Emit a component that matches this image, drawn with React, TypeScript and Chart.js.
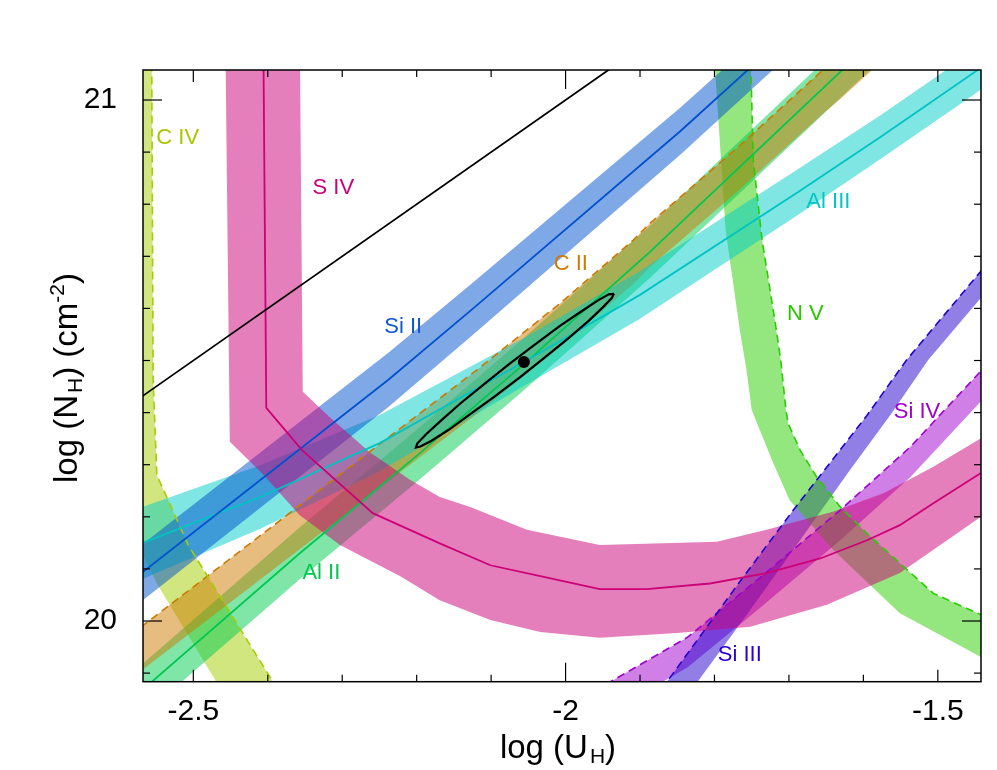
import React, { useEffect, useRef } from "react";
import { Chart, registerables } from "chart.js";

Chart.register(...registerables);

type P = [number, number];

// ---------- axes ----------
const X_MIN = -2.5676;
const X_MAX = -1.442;
const Y_MIN = 19.8835;
const Y_MAX = 21.0576;
const X_TICK_STEP = 0.1;
const Y_TICK_STEP = 0.1;
const X_LABELED = [-2.5, -2, -1.5];
const Y_LABELED = [20, 21];

// ---------- data (log U_H, log N_H) ----------
// ionisation-front line
const frontLine: P[] = [[-2.62, 20.38], [-1.9, 21.1]];

// best fit and confidence contour
const bestFit: P[] = [[-2.056, 20.497]];
const contour: P[] = [
  [-1.935, 20.628], [-1.938, 20.62], [-1.95, 20.602], [-1.969, 20.576], [-1.996, 20.543],
  [-2.027, 20.507], [-2.061, 20.468], [-2.096, 20.43], [-2.129, 20.396], [-2.157, 20.367],
  [-2.18, 20.346], [-2.195, 20.335], [-2.201, 20.333], [-2.199, 20.341], [-2.187, 20.359],
  [-2.167, 20.385], [-2.141, 20.418], [-2.109, 20.455], [-2.075, 20.494], [-2.04, 20.532],
  [-2.008, 20.566], [-1.979, 20.594], [-1.957, 20.615], [-1.942, 20.627], [-1.935, 20.628],
];

// S IV
const s4Center: P[] = [
  [-2.406, 21.12], [-2.402, 20.409], [-2.354, 20.328], [-2.259, 20.207], [-2.169, 20.149],
  [-2.101, 20.107], [-2.034, 20.086], [-1.954, 20.061], [-1.891, 20.061], [-1.806, 20.072],
  [-1.73, 20.092], [-1.658, 20.12], [-1.595, 20.155], [-1.551, 20.184], [-1.506, 20.226],
  [-1.442, 20.284], [-1.403, 20.319],
];
const s4Outer: P[] = [
  [-2.457, 21.12], [-2.451, 20.344], [-2.408, 20.284], [-2.357, 20.203], [-2.303, 20.146],
  [-2.222, 20.086], [-2.169, 20.04], [-2.101, 20.002], [-2.034, 19.979], [-1.954, 19.968],
  [-1.85, 19.977], [-1.752, 19.989], [-1.649, 20.031], [-1.551, 20.092], [-1.442, 20.2],
  [-1.403, 20.242],
];
const s4Inner: P[] = [
  [-2.357, 21.12], [-2.353, 20.44], [-2.316, 20.39], [-2.263, 20.324], [-2.209, 20.271],
  [-2.169, 20.238], [-2.128, 20.219], [-2.052, 20.175], [-1.954, 20.146], [-1.797, 20.152],
  [-1.73, 20.175], [-1.64, 20.21], [-1.573, 20.245], [-1.506, 20.296], [-1.442, 20.351],
  [-1.403, 20.386],
];

// Si II
const si2Center: P[] = [[-2.598, 20.059], [-2.567, 20.095], [-2.238, 20.463], [-2.124, 20.6], [-1.846, 20.94], [-1.755, 21.058], [-1.7, 21.13]];
const si2Upper: P[] = [[-2.598, 20.113], [-2.567, 20.149], [-2.238, 20.515], [-2.124, 20.65], [-1.846, 20.985], [-1.755, 21.102], [-1.7, 21.174]];
const si2Lower: P[] = [[-2.598, 20.005], [-2.567, 20.041], [-2.238, 20.411], [-2.124, 20.55], [-1.846, 20.895], [-1.755, 21.014], [-1.7, 21.086]];

// Al III
const al3Center: P[] = [
  [-2.598, 20.117], [-2.568, 20.15], [-2.41, 20.238], [-2.249, 20.342], [-2.056, 20.497],
  [-1.9, 20.626], [-1.685, 20.826], [-1.578, 20.928], [-1.461, 21.043], [-1.43, 21.074],
];
const al3Upper: P[] = [
  [-2.598, 20.186], [-2.568, 20.219], [-2.41, 20.299], [-2.249, 20.396], [-2.056, 20.543],
  [-1.9, 20.672], [-1.685, 20.87], [-1.578, 20.97], [-1.461, 21.085], [-1.43, 21.116],
];
const al3Lower: P[] = [
  [-2.598, 20.048], [-2.568, 20.081], [-2.41, 20.177], [-2.249, 20.288], [-2.056, 20.451],
  [-1.9, 20.58], [-1.685, 20.782], [-1.578, 20.886], [-1.461, 21.001], [-1.43, 21.032],
];

// C II (lower limit, dashed edge)
const c2Edge: P[] = [
  [-2.598, 19.958], [-2.567, 19.992], [-2.231, 20.36], [-2.119, 20.482], [-2.007, 20.61],
  [-1.909, 20.731], [-1.887, 20.763], [-1.768, 20.91], [-1.654, 21.058], [-1.631, 21.086], [-1.58, 21.152],
];
const c2Lower: P[] = [
  [-2.598, 19.874], [-2.567, 19.908], [-2.231, 20.276], [-2.119, 20.398], [-2.007, 20.526],
  [-1.909, 20.647], [-1.887, 20.679], [-1.768, 20.826], [-1.654, 20.974], [-1.631, 21.002], [-1.58, 21.068],
];

// Al II
const al2Center: P[] = [
  [-2.598, 19.831], [-2.556, 19.883], [-2.357, 20.13], [-2.2, 20.317], [-2.056, 20.493],
  [-1.887, 20.708], [-1.631, 21.054], [-1.6045, 21.09], [-1.56, 21.15],
];
const al2Upper: P[] = [
  [-2.598, 19.881], [-2.556, 19.933], [-2.357, 20.18], [-2.2, 20.367], [-2.056, 20.543],
  [-1.887, 20.758], [-1.631, 21.104], [-1.6045, 21.14], [-1.56, 21.2],
];
const al2Lower: P[] = [
  [-2.598, 19.781], [-2.556, 19.833], [-2.357, 20.08], [-2.2, 20.267], [-2.056, 20.443],
  [-1.887, 20.658], [-1.631, 21.004], [-1.6045, 21.04], [-1.56, 21.1],
];

// C IV
const c4Edge: P[] = [
  [-2.556, 21.12], [-2.554, 20.463], [-2.549, 20.28], [-2.531, 20.223], [-2.507, 20.146],
  [-2.451, 20.017], [-2.393, 19.883], [-2.37, 19.833],
];
const c4Other: P[] = [
  [-2.625, 21.12], [-2.625, 20.28], [-2.568, 20.127], [-2.549, 20.072], [-2.469, 19.883], [-2.444, 19.825],
];

// N V
const n5Edge: P[] = [
  [-1.752, 21.12], [-1.748, 20.885], [-1.736, 20.731], [-1.719, 20.578], [-1.711, 20.501],
  [-1.704, 20.405], [-1.701, 20.379], [-1.685, 20.328], [-1.663, 20.277], [-1.631, 20.219],
  [-1.595, 20.168], [-1.551, 20.111], [-1.506, 20.053], [-1.442, 20.012], [-1.403, 19.983],
];
const n5Other: P[] = [
  [-1.802, 21.12], [-1.785, 20.75], [-1.766, 20.559], [-1.757, 20.482], [-1.75, 20.405],
  [-1.721, 20.303], [-1.699, 20.232], [-1.64, 20.136], [-1.551, 20.015], [-1.442, 19.931], [-1.403, 19.902],
];

// Si III
const si3Edge: P[] = [
  [-1.903, 19.81], [-1.864, 19.883], [-1.761, 20.085], [-1.694, 20.213], [-1.595, 20.395],
  [-1.542, 20.501], [-1.443, 20.67], [-1.416, 20.722],
];
const si3Other: P[] = [
  [-1.846, 19.81], [-1.823, 19.883], [-1.752, 20.021], [-1.685, 20.155], [-1.618, 20.29],
  [-1.564, 20.395], [-1.513, 20.501], [-1.416, 20.664],
];

// Si IV
const si4Edge: P[] = [
  [-2.006, 19.829], [-1.94, 19.883], [-1.836, 19.969], [-1.739, 20.083], [-1.631, 20.213],
  [-1.537, 20.334], [-1.442, 20.48], [-1.416, 20.52],
];
const si4Lower: P[] = [
  [-2.006, 19.771], [-1.94, 19.825], [-1.836, 19.911], [-1.739, 20.025], [-1.631, 20.155],
  [-1.537, 20.276], [-1.442, 20.422], [-1.416, 20.462],
];

// ion labels
const ionNames = ["C IV", "S IV", "Si II", "C II", "Al III", "N V", "Si IV", "Si III", "Al II"];
const ionLabelX = [-2.521, -2.312, -2.218, -1.993, -1.647, -1.678, -1.528, -1.766, -2.328];
const ionLabelY = [20.927, 20.831, 20.564, 20.685, 20.804, 20.589, 20.401, 19.935, 20.092];
const ionLabelColors = ["#a5c800", "#cc0077", "#1058d0", "#d07a00", "#00c8c4", "#29c800", "#a000cc", "#2a00d0", "#00c850"];

// ---------- styles ----------
const C = {
  s4: "204,0,119",
  si2: "0,81,205",
  al3: "0,205,199",
  c2: "205,121,0",
  al2: "0,205,81",
  n5: "41,205,0",
  c4: "165,205,0",
  si3: "35,0,205",
  si4: "161,0,205",
};

const pts = (a: P[]) => a.map(([x, y]) => ({ x, y }));
const poly = (a: P[], b: P[]) => pts(a.concat(b.slice().reverse()));

function band(a: P[], b: P[], rgb: string) {
  return {
    data: poly(a, b),
    fill: "shape",
    backgroundColor: `rgba(${rgb},0.5)`,
    borderWidth: 0,
    borderColor: "transparent",
    pointRadius: 0,
    tension: 0,
    clip: 0,
  };
}
function solid(a: P[], color: string, width = 1.8) {
  return { data: pts(a), fill: false, borderColor: color, borderWidth: width, pointRadius: 0, tension: 0, clip: 0 };
}
function dashed(a: P[], rgb: string) {
  return { ...solid(a, `rgb(${rgb})`, 1.6), borderDash: [8, 5] };
}

const isX = (v: number) => X_LABELED.some((t) => Math.abs(t - v) < 1e-6);
const isY = (v: number) => Y_LABELED.some((t) => Math.abs(t - v) < 1e-6);

const FONT = '"Liberation Sans", Arial, sans-serif';

const framePlugin = {
  id: "frameTicks",
  afterDraw(chart: any) {
    const { ctx, chartArea: a, scales } = chart;
    const xs = scales.x;
    const ys = scales.y;
    ctx.save();
    ctx.strokeStyle = "#000";
    ctx.lineWidth = 1.2;
    const ln = (x1: number, y1: number, x2: number, y2: number) => {
      ctx.beginPath();
      ctx.moveTo(x1, y1);
      ctx.lineTo(x2, y2);
      ctx.stroke();
    };
    for (const t of xs.ticks) {
      const p = xs.getPixelForValue(t.value);
      if (p < a.left + 1 || p > a.right - 1) continue;
      const len = Math.abs(t.value + 2) < 1e-6 ? 19 : isX(t.value) ? 12 : 7;
      ln(p, a.bottom, p, a.bottom - len);
      ln(p, a.top, p, a.top + len);
    }
    for (const t of ys.ticks) {
      const p = ys.getPixelForValue(t.value);
      if (p < a.top + 1 || p > a.bottom - 1) continue;
      const len = isY(t.value) ? 19 : 7;
      ln(a.left, p, a.left + len, p);
      ln(a.right, p, a.right - len, p);
    }
    ctx.lineWidth = 1.5;
    ctx.strokeRect(a.left, a.top, a.right - a.left, a.bottom - a.top);
    ctx.restore();
  },
};

const labelPlugin = {
  id: "ionLabels",
  afterDatasetsDraw(chart: any) {
    const { ctx, scales } = chart;
    ctx.save();
    ctx.font = `22px ${FONT}`;
    ctx.textAlign = "center";
    ctx.textBaseline = "middle";
    ionNames.forEach((n, i) => {
      ctx.fillStyle = ionLabelColors[i];
      ctx.fillText(n, scales.x.getPixelForValue(ionLabelX[i]), scales.y.getPixelForValue(ionLabelY[i]));
    });
    ctx.restore();
  },
};

type Part = { t: string; k?: "sub" | "sup" };
const X_TITLE: Part[] = [{ t: "log (U" }, { t: "H", k: "sub" }, { t: ")" }];
const Y_TITLE: Part[] = [{ t: "log (N" }, { t: "H", k: "sub" }, { t: ") (cm" }, { t: "-2", k: "sup" }, { t: ")" }];

function drawRich(ctx: CanvasRenderingContext2D, parts: Part[], cx: number, by: number) {
  const big = `33px ${FONT}`;
  const small = `21px ${FONT}`;
  let w = 0;
  for (const p of parts) {
    ctx.font = p.k ? small : big;
    w += ctx.measureText(p.t).width + (p.k === "sub" ? 2 : 0);
  }
  let x = cx - w / 2;
  for (const p of parts) {
    ctx.font = p.k ? small : big;
    const dy = p.k === "sub" ? 5 : p.k === "sup" ? -13 : 0;
    if (p.k === "sub") x += 2;
    ctx.fillText(p.t, x, by + dy);
    x += ctx.measureText(p.t).width;
  }
}

const titlePlugin = {
  id: "axisTitles",
  afterDraw(chart: any) {
    const { ctx } = chart;
    ctx.save();
    ctx.fillStyle = "#000";
    ctx.textAlign = "left";
    ctx.textBaseline = "alphabetic";
    drawRich(ctx, X_TITLE, 558, 758);
    ctx.translate(77, 378);
    ctx.rotate(-Math.PI / 2);
    drawRich(ctx, Y_TITLE, 0, 0);
    ctx.restore();
  },
};

export default function App() {
  const ref = useRef<HTMLCanvasElement | null>(null);
  useEffect(() => {
    if (!ref.current) return;
    const chart = new Chart(ref.current, {
      type: "line",
      data: {
        datasets: [
          { data: pts(bestFit), showLine: false, pointRadius: 6, pointBackgroundColor: "#000", pointBorderColor: "#000", borderWidth: 0 },
          solid(contour, "#000", 2.2),
          solid(frontLine, "#000", 1.8),
          solid(s4Center, "rgb(204,0,119)"),
          solid(si2Center, "rgb(0,81,205)"),
          solid(al3Center, "rgb(0,196,196)"),
          solid(al2Center, "rgb(0,200,81)"),
          dashed(c4Edge, C.c4),
          dashed(c2Edge, C.c2),
          dashed(n5Edge, C.n5),
          dashed(si3Edge, C.si3),
          dashed(si4Edge, C.si4),
          band(s4Outer, s4Inner, C.s4),
          band(si2Upper, si2Lower, C.si2),
          band(al3Upper, al3Lower, C.al3),
          band(c2Edge, c2Lower, C.c2),
          band(al2Upper, al2Lower, C.al2),
          band(n5Edge, n5Other, C.n5),
          band(c4Edge, c4Other, C.c4),
          band(si3Edge, si3Other, C.si3),
          band(si4Edge, si4Lower, C.si4),
        ] as any,
      },
      options: {
        responsive: false,
        animation: false,
        events: [],
        layout: { padding: { left: 0, top: 70, right: 16, bottom: 0 } },
        plugins: { legend: { display: false }, tooltip: { enabled: false } },
        scales: {
          x: {
            type: "linear",
            min: X_MIN,
            max: X_MAX,
            grid: { display: false, drawTicks: false },
            border: { display: false },
            ticks: {
              stepSize: X_TICK_STEP,
              includeBounds: false,
              autoSkip: false,
              maxRotation: 0,
              padding: 12,
              color: "#000",
              font: { family: FONT, size: 30 },
              callback: (v: any) => (isX(Number(v)) ? String(Number(Number(v).toFixed(1))) : ""),
            },
            afterFit: (s: any) => {
              s.height = 88.3;
            },
          },
          y: {
            type: "linear",
            min: Y_MIN,
            max: Y_MAX,
            grid: { display: false, drawTicks: false },
            border: { display: false },
            ticks: {
              stepSize: Y_TICK_STEP,
              includeBounds: false,
              autoSkip: false,
              padding: 26,
              color: "#000",
              font: { family: FONT, size: 30 },
              callback: (v: any) => (isY(Number(v)) ? String(Math.round(Number(v))) : ""),
            },
            afterFit: (s: any) => {
              s.width = 143;
            },
          },
        },
      } as any,
      plugins: [labelPlugin, framePlugin, titlePlugin],
    });
    return () => chart.destroy();
  }, []);
  return (
    <div style={{ position: "absolute", left: 0, top: 0, width: 997, height: 770, background: "#fff" }}>
      <canvas ref={ref} width={997} height={770} style={{ display: "block" }} />
    </div>
  );
}
